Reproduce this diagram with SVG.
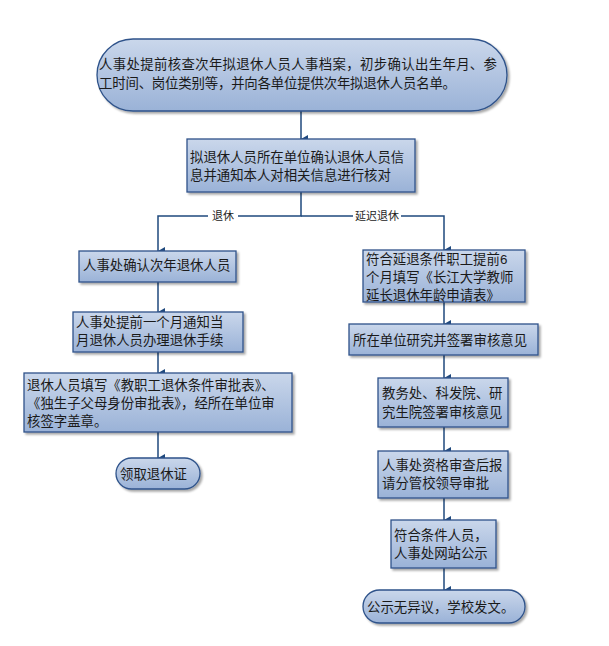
<svg xmlns="http://www.w3.org/2000/svg" width="609" height="646" viewBox="0 0 609 646">
<defs>
<linearGradient id="g" x1="0" y1="0" x2="0" y2="1">
<stop offset="0" stop-color="#cad7eb"/>
<stop offset="1" stop-color="#9ab2d7"/>
</linearGradient>
<marker id="ah" markerWidth="8" markerHeight="7" refX="4" refY="7" orient="auto" markerUnits="userSpaceOnUse" viewBox="0 0 8 7">
<path d="M0,0 L8,0 L4,7 Z" fill="#1f497d"/>
</marker>
<filter id="sh" x="-5%" y="-5%" width="115%" height="130%">
<feDropShadow dx="2" dy="2" stdDeviation="0.8" flood-color="#000" flood-opacity="0.35"/>
</filter>
</defs>
<style>
.n{fill:url(#g);stroke:#2e528a;stroke-width:1.3;filter:url(#sh)}
.t{font-family:"Liberation Sans","Noto Sans CJK SC",sans-serif;font-size:13.4px;fill:#1a1a1a}
.c{fill:none;stroke:#1f497d;stroke-width:1.5}
.l{font-family:"Liberation Sans","Noto Sans CJK SC",sans-serif;font-size:11px;fill:#222}
</style>
<rect width="609" height="646" fill="#fff"/>
<g id="connectors">
<line class="c" x1="301" y1="111" x2="301" y2="139" marker-end="url(#ah)"/>
<polyline class="c" points="301,192 301,216 158,216 158,251" marker-end="url(#ah)"/>
<polyline class="c" points="301,216 444,216 444,250" marker-end="url(#ah)"/>
<line class="c" x1="158" y1="282" x2="158" y2="312" marker-end="url(#ah)"/>
<line class="c" x1="158" y1="352" x2="158" y2="373" marker-end="url(#ah)"/>
<line class="c" x1="158" y1="432" x2="158" y2="458" marker-end="url(#ah)"/>
<line class="c" x1="444" y1="302" x2="444" y2="324" marker-end="url(#ah)"/>
<line class="c" x1="444" y1="355" x2="444" y2="378" marker-end="url(#ah)"/>
<line class="c" x1="444" y1="427" x2="444" y2="451" marker-end="url(#ah)"/>
<line class="c" x1="444" y1="498" x2="444" y2="520" marker-end="url(#ah)"/>
<line class="c" x1="444" y1="568" x2="444" y2="590" marker-end="url(#ah)"/>
<rect x="208" y="209" width="30" height="14" fill="#fff"/>
<text class="l" x="223" y="220" text-anchor="middle">退休</text>
<rect x="353" y="209" width="48" height="14" fill="#fff"/>
<text class="l" x="377" y="220" text-anchor="middle">延迟退休</text>
</g>
<g id="n1">
<rect class="n" x="97" y="39" width="410" height="72" rx="36" ry="36"/>
<text class="t"><tspan x="99" y="69" textLength="398" lengthAdjust="spacing">人事处提前核查次年拟退休人员人事档案，初步确认出生年月、参</tspan><tspan x="99" y="88" textLength="357" lengthAdjust="spacing">工时间、岗位类别等，并向各单位提供次年拟退休人员名单。</tspan></text>
</g>
<g id="n2">
<rect class="n" x="187" y="139" width="228" height="53"/>
<text class="t"><tspan x="190" y="162">拟退休人员所在单位确认退休人员信</tspan><tspan x="190" y="180">息并通知本人对相关信息进行核对</tspan></text>
</g>
<g id="n3">
<rect class="n" x="79" y="251" width="157" height="31"/>
<text class="t" x="83" y="270">人事处确认次年退休人员</text>
</g>
<g id="n4">
<rect class="n" x="73" y="312" width="170" height="40"/>
<text class="t"><tspan x="76" y="327">人事处提前一个月通知当</tspan><tspan x="76" y="345">月退休人员办理退休手续</tspan></text>
</g>
<g id="n5">
<rect class="n" x="24" y="373" width="268" height="59"/>
<text class="t"><tspan x="27" y="390">退休人员填写《教职工退休条件审批表》、</tspan><tspan x="27" y="408">《独生子父母身份审批表》，经所在单位审</tspan><tspan x="27" y="426">核签字盖章。</tspan></text>
</g>
<g id="n6">
<rect class="n" x="116" y="458" width="84" height="31" rx="15.5" ry="15.5"/>
<text class="t" x="120" y="479">领取退休证</text>
</g>
<g id="r1">
<rect class="n" x="363" y="250" width="162" height="52"/>
<text class="t"><tspan x="366" y="264">符合延退条件职工提前6</tspan><tspan x="366" y="282">个月填写《长江大学教师</tspan><tspan x="366" y="300">延长退休年龄申请表》</tspan></text>
</g>
<g id="r2">
<rect class="n" x="349" y="324" width="189" height="31"/>
<text class="t" x="353" y="345">所在单位研究并签署审核意见</text>
</g>
<g id="r3">
<rect class="n" x="378" y="378" width="130" height="49"/>
<text class="t"><tspan x="382" y="398">教务处、科发院、研</tspan><tspan x="382" y="417">究生院签署审核意见</tspan></text>
</g>
<g id="r4">
<rect class="n" x="378" y="451" width="130" height="47"/>
<text class="t"><tspan x="382" y="470">人事处资格审查后报</tspan><tspan x="382" y="488">请分管校领导审批</tspan></text>
</g>
<g id="r5">
<rect class="n" x="391" y="520" width="105" height="48"/>
<text class="t"><tspan x="394" y="540">符合条件人员，</tspan><tspan x="394" y="558">人事处网站公示</tspan></text>
</g>
<g id="r6">
<rect class="n" x="363" y="590" width="162" height="33" rx="16.5" ry="16.5"/>
<text class="t" x="367" y="612">公示无异议，学校发文。</text>
</g>
</svg>
